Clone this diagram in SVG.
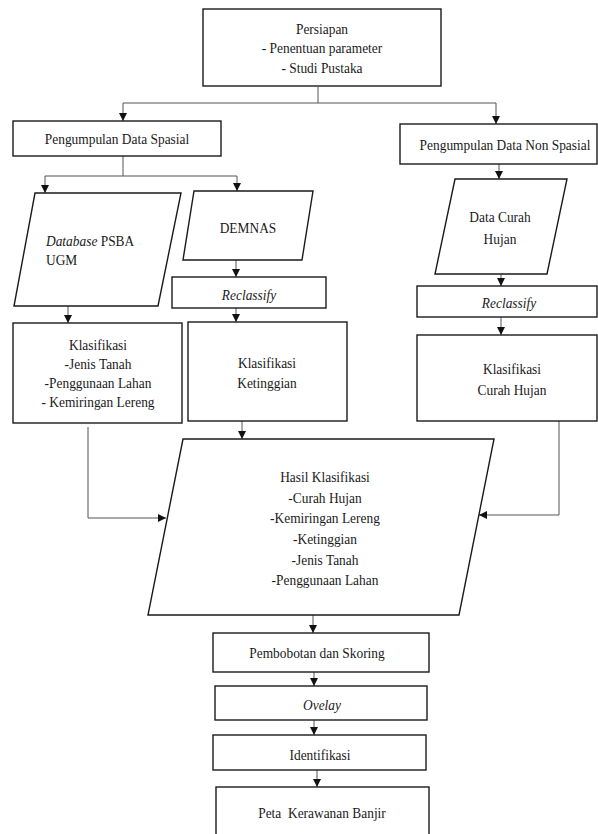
<svg xmlns="http://www.w3.org/2000/svg" width="598" height="834" viewBox="0 0 598 834">
<style>
.b{fill:#fff;stroke:#1a1a1a;stroke-width:1.4}
.t{font-family:"Liberation Serif","Times New Roman",serif;font-size:14.5px;fill:#1a1a1a;text-anchor:middle}
.i{font-style:italic}
.c{fill:none;stroke:#555;stroke-width:1}
</style>
<defs>
<marker id="ah" viewBox="0 0 8 8" refX="8" refY="4" markerWidth="8" markerHeight="8" markerUnits="userSpaceOnUse" orient="auto">
<path d="M0,0 L8,4 L0,8 z" fill="#111"/>
</marker>
</defs>
<rect width="598" height="834" fill="#fff"/>
<g id="connectors">
<polyline class="c" points="318,87 318,103"/>
<polyline class="c" points="123,103 496,103"/>
<polyline class="c" points="123,103 123,121" marker-end="url(#ah)"/>
<polyline class="c" points="496,103 496,124" marker-end="url(#ah)"/>
<polyline class="c" points="123,156 123,176"/>
<polyline class="c" points="45,176 237,176"/>
<polyline class="c" points="45,176 45,193" marker-end="url(#ah)"/>
<polyline class="c" points="237,176 237,191" marker-end="url(#ah)"/>
<polyline class="c" points="499,164 499,179" marker-end="url(#ah)"/>
<polyline class="c" points="68,306 68,323" marker-end="url(#ah)"/>
<polyline class="c" points="236,260 236,277" marker-end="url(#ah)"/>
<polyline class="c" points="236,308 236,322" marker-end="url(#ah)"/>
<polyline class="c" points="501,274 501,286" marker-end="url(#ah)"/>
<polyline class="c" points="501,317 501,335" marker-end="url(#ah)"/>
<polyline class="c" points="242,421 242,439" marker-end="url(#ah)"/>
<polyline class="c" points="88,427 88,518 166,518" marker-end="url(#ah)"/>
<polyline class="c" points="559,421 559,515 479,515" marker-end="url(#ah)"/>
<polyline class="c" points="313,615 313,633" marker-end="url(#ah)"/>
<polyline class="c" points="314,672 314,686" marker-end="url(#ah)"/>
<polyline class="c" points="314,720 314,735" marker-end="url(#ah)"/>
<polyline class="c" points="317,770 317,787" marker-end="url(#ah)"/>
</g>
<g id="persiapan">
<rect class="b" x="203" y="9" width="238" height="77"/>
<g transform="matrix(0.925 0 0 1 24.15 0)">
<text class="t" x="322" y="34">Persiapan</text>
<text class="t" x="322" y="53.5">- Penentuan parameter</text>
<text class="t" x="322" y="73">- Studi Pustaka</text>
</g>
</g>
<g id="data-spasial">
<rect class="b" x="13" y="121" width="208" height="35"/>
<text class="t" x="117" y="144" transform="matrix(0.925 0 0 1 8.775 0)">Pengumpulan Data Spasial</text>
</g>
<g id="data-non-spasial">
<rect class="b" x="400" y="124" width="197" height="40"/>
<text class="t" x="505" y="150" transform="matrix(0.925 0 0 1 37.875 0)">Pengumpulan Data Non Spasial</text>
</g>
<g id="database">
<polygon class="b" points="35,193 181,193 158,306 14,306"/>
<g transform="matrix(0.925 0 0 1 3.45 0)">
<text class="t" x="46" y="246" style="text-anchor:start"><tspan class="i">Database</tspan> PSBA</text>
<text class="t" x="46" y="265" style="text-anchor:start">UGM</text>
</g>
</g>
<g id="demnas">
<polygon class="b" points="194,191 313,191 302,260 183,260"/>
<text class="t" x="248" y="233" transform="matrix(0.925 0 0 1 18.6 0)">DEMNAS</text>
</g>
<g id="curah-hujan">
<polygon class="b" points="455,179 567,179 547,274 435,274"/>
<g transform="matrix(0.925 0 0 1 37.5 0)">
<text class="t" x="500" y="222">Data Curah</text>
<text class="t" x="500" y="244">Hujan</text>
</g>
</g>
<g id="reclassify-1">
<rect class="b" x="172" y="277" width="154" height="31"/>
<text class="t i" x="249" y="300" transform="matrix(0.925 0 0 1 18.675 0)">Reclassify</text>
</g>
<g id="reclassify-2">
<rect class="b" x="417" y="286" width="180" height="31"/>
<text class="t i" x="509" y="308" transform="matrix(0.925 0 0 1 38.175 0)">Reclassify</text>
</g>
<g id="klasifikasi-1">
<rect class="b" x="13" y="323" width="169" height="100"/>
<g transform="matrix(0.925 0 0 1 7.35 0)">
<text class="t" x="98" y="350">Klasifikasi</text>
<text class="t" x="98" y="369">-Jenis Tanah</text>
<text class="t" x="98" y="388">-Penggunaan Lahan</text>
<text class="t" x="98" y="407">- Kemiringan Lereng</text>
</g>
</g>
<g id="klasifikasi-ketinggian">
<rect class="b" x="188" y="322" width="159" height="99"/>
<g transform="matrix(0.925 0 0 1 20.025 0)">
<text class="t" x="267" y="368">Klasifikasi</text>
<text class="t" x="267" y="388">Ketinggian</text>
</g>
</g>
<g id="klasifikasi-curah">
<rect class="b" x="417" y="335" width="180" height="86"/>
<g transform="matrix(0.925 0 0 1 38.4 0)">
<text class="t" x="512" y="374">Klasifikasi</text>
<text class="t" x="512" y="395">Curah Hujan</text>
</g>
</g>
<g id="hasil">
<polygon class="b" points="183,439 494,439 459,615 148,615"/>
<g transform="matrix(0.925 0 0 1 24.375 0)">
<text class="t" x="325" y="482">Hasil Klasifikasi</text>
<text class="t" x="325" y="503">-Curah Hujan</text>
<text class="t" x="325" y="523">-Kemiringan Lereng</text>
<text class="t" x="325" y="544">-Ketinggian</text>
<text class="t" x="325" y="565">-Jenis Tanah</text>
<text class="t" x="325" y="585">-Penggunaan Lahan</text>
</g>
</g>
<g id="pembobotan">
<rect class="b" x="213" y="633" width="216" height="39"/>
<text class="t" x="317" y="658" transform="matrix(0.925 0 0 1 23.775 0)">Pembobotan dan Skoring</text>
</g>
<g id="overlay">
<rect class="b" x="215" y="686" width="212" height="34"/>
<text class="t i" x="322" y="710" transform="matrix(0.925 0 0 1 24.15 0)">Ovelay</text>
</g>
<g id="identifikasi">
<rect class="b" x="213" y="735" width="213" height="35"/>
<text class="t" x="320" y="760" transform="matrix(0.925 0 0 1 24 0)">Identifikasi</text>
</g>
<g id="peta">
<rect class="b" x="216" y="787" width="213" height="60"/>
<text class="t" x="322" y="818" transform="matrix(0.925 0 0 1 24.15 0)">Peta &#160;Kerawanan Banjir</text>
</g>
</svg>
